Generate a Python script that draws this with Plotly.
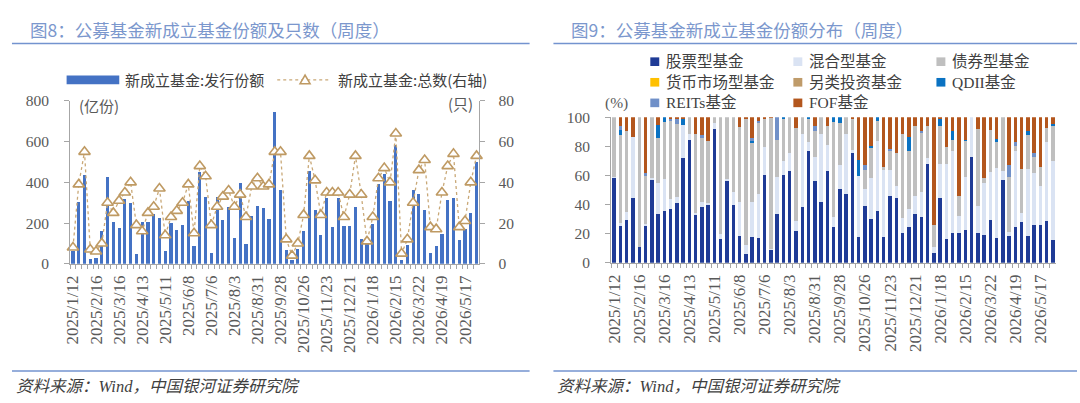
import plotly.graph_objects as go

W, H = 1080, 403

dates = [
    "2025/1/12", "2025/1/19", "2025/1/26", "2025/2/9", "2025/2/16", "2025/2/23", "2025/3/2", "2025/3/9",
    "2025/3/16", "2025/3/23", "2025/3/30", "2025/4/6", "2025/4/13", "2025/4/20", "2025/4/27", "2025/5/4",
    "2025/5/11", "2025/5/18", "2025/5/25", "2025/6/1", "2025/6/8", "2025/6/15", "2025/6/22", "2025/6/29",
    "2025/7/6", "2025/7/13", "2025/7/20", "2025/7/27", "2025/8/3", "2025/8/10", "2025/8/17", "2025/8/24",
    "2025/8/31", "2025/9/7", "2025/9/14", "2025/9/21", "2025/9/28", "2025/10/5", "2025/10/12", "2025/10/19",
    "2025/10/26", "2025/11/2", "2025/11/9", "2025/11/16", "2025/11/23", "2025/11/30", "2025/12/7", "2025/12/14",
    "2025/12/21", "2025/12/28", "2026/1/4", "2026/1/11", "2026/1/18", "2026/1/25", "2026/2/1", "2026/2/8",
    "2026/2/15", "2026/3/1", "2026/3/8", "2026/3/15", "2026/3/22", "2026/3/29", "2026/4/5", "2026/4/12",
    "2026/4/19", "2026/4/26", "2026/5/3", "2026/5/10", "2026/5/17", "2026/5/24", "2026/5/31",
]
label_every = 4

# 图8: 发行份额(亿份) 与 总数(只)
share = [65, 304, 438, 25, 30, 163, 427, 207, 177, 317, 301, 49, 204, 204, 245, 223, 64, 202,
         165, 190, 309, 89, 453, 326, 55, 328, 213, 278, 129, 397, 99, 234, 282, 276, 218, 747,
         364, 69, 20, 74, 160, 456, 262, 143, 325, 179, 325, 184, 184, 281, 121, 100, 195, 391,
         441, 309, 584, 17, 93, 361, 342, 262, 53, 88, 147, 312, 325, 116, 171, 248, 500]
count = [8, 39, 55, 7, 6, 10, 30, 25, 31, 35, 40, 19, 16, 25, 28, 37, 14, 23,
         26, 30, 39, 15, 48, 43, 19, 28, 33, 36, 28, 34, 23, 38, 42, 38, 39, 55,
         55, 12, 4, 10, 24, 53, 41, 24, 35, 35, 35, 23, 34, 53, 34, 11, 23, 42,
         47, 40, 64, 5, 12, 30, 46, 51, 18, 17, 35, 48, 54, 18, 21, 40, 53]

# 图9: 份额分布 (%)
stock = [58.5, 25, 29.6, 44.3, 11, 25.5, 57.2, 33.3, 35.3, 37, 41, 72, 84.2, 33.3, 38, 39.5, 92.1, 16.4,
         55.9, 39.5, 18.2, 6, 18, 17, 60.5, 9, 33.3, 60.3, 63, 21.7, 38.6, 76.8, 55.9, 42.1, 62.9, 24.8,
         50.9, 47.1, 75.4, 17.5, 38.8, 30, 35.5, 18, 46, 44.5, 20.8, 24.8, 33.6, 31.8, 68, 6.6, 44.3, 16.4,
         20.2, 20.8, 22.4, 72.8, 20.8, 19.1, 29.6, 17.1, 56.6, 18.4, 24.8, 28.1, 18.2, 26.3, 25.9, 28.9, 16]
mixed = [0.5, 2.5, 5.4, 42.3, 0, 1, 1.3, 21.5, 22.2, 6.9,
         4, 23, 4.6, 0.7, 3.5, 1.5, 3.7, 3.3, 1.6, 9.2,
         23.9, 6.5, 23.5, 30.5, 19, 0.5, 25.5, 9.9, 12.7, 7.2,
         49.8, 6.5, 17.1, 46.3, 18.2, 6.8, 16, 41.1, 2, 42.4,
         12.1, 28.1, 48.3, 45.6, 17.6, 8.6, 9.9, 12, 12.4, 16.9,
         3.9, 4.4, 23.7, 51.6, 56.6, 11.7, 36.8, 27.2, 18, 35.7,
         32.9, 48.3, 6.3, 3.1, 52, 5.9, 46.5, 35.5, 27.2, 54.4,
         53.7]
bond = [41, 60.5, 55.6, 0, 89, 33, 41.5, 30.7, 39, 53.7,
        50.5, 0, 11.2, 54.8, 44.5, 42.8, 4.2, 80.3, 42.5, 51.3,
        51.1, 86.2, 41, 49, 19.5, 90, 25.4, 28.5, 24.3, 63.9,
        11.6, 16, 17.4, 11.6, 13.2, 65.3, 29.1, 11.8, 21.6, 0,
        12.7, 20.8, 13.8, 2, 13.2, 22.6, 58.1, 40, 48.3, 40.8,
        22.4, 15.3, 26.3, 11.4, 7.6, 13.1, 24.6, 0, 53.3, 3.3,
        28.5, 17.9, 37.1, 37.5, 3.2, 30.7, 23, 10.6, 12.7, 9.2,
        24.2]
money = [0, 0, 0, 0, 0, 0, 0, 0, 0, 0, 0, 0, 0, 0, 0, 0, 0, 0, 0, 0, 0, 0, 0, 0,
         0, 0, 0, 0, 0, 0, 0, 0, 0, 0, 0, 0, 0, 0, 0, 0, 0, 0, 0, 0, 0, 0, 0, 0,
         0, 0, 0, 0, 0, 0, 0, 0, 0, 0, 0, 0, 0, 0, 0, 0, 0, 0, 0, 0, 0, 0, 0]
altern = [0, 0, 0, 0, 0, 0, 0, 0, 0, 0, 0, 0, 0, 0, 0, 0, 0, 0, 0, 0, 0, 0, 0, 0,
          0, 0, 0, 0, 0, 0, 0, 0, 0, 0, 0, 0, 0, 0, 0, 0, 0, 0, 0, 0, 0, 0, 0, 0,
          0, 0, 0, 0, 0, 0, 0, 0, 0, 0, 0, 0, 0, 0, 0, 0, 0, 0, 0, 0, 0, 0, 0]
qdii = [0, 3, 0, 0, 0, 0, 0, 9.5, 3.5, 0,
        0, 4, 0, 0, 0, 0, 0, 0, 0, 0,
        0, 0, 1.5, 0, 0, 0, 0, 1.3, 0, 0,
        0, 0.7, 0, 0, 0, 3.1, 4, 0, 0, 10.7,
        0, 1, 2.4, 0, 0, 0, 0, 9.9, 0, 0,
        0, 0, 4.8, 0, 5.9, 0, 0.9, 0, 0, 0,
        0, 1.5, 0, 0, 0, 0, 2.6, 0, 0, 0,
        1.3]
reits = [0, 3, 0, 0, 0, 2, 0, 0, 0, 1.4,
         3, 0, 0, 0, 2, 0, 0, 0, 0, 0,
         0, 0, 1.5, 1, 0, 0, 15.8, 0, 0, 0,
         0, 0, 3.5, 0, 0, 0, 0, 0, 0, 0,
         3.7, 0, 0, 0, 1.3, 0, 0, 0, 0, 0.9,
         0, 0, 0, 0, 0, 0, 0, 0, 0, 0,
         0, 0, 0, 8, 3.3, 0, 0, 3.3, 0, 0,
         0]
fof = [0, 6, 9.4, 13.4, 0, 38.5, 0, 5, 0, 1,
       1.5, 1, 0, 11.2, 12, 16.2, 0, 0, 0, 0,
       6.8, 1.3, 14.5, 2.5, 1, 0.5, 0, 0, 0, 7.2,
       0, 0, 6.1, 0, 5.7, 0, 0, 0, 1, 29.4,
       32.7, 20.1, 0, 34.4, 21.9, 24.3, 11.2, 13.3, 5.7, 9.6,
       5.7, 73.7, 0.9, 20.6, 9.7, 54.4, 15.3, 0, 7.9, 41.9,
       9, 15.2, 0, 33, 16.7, 35.3, 9.7, 24.3, 34.2, 7.5,
       4.8]

series9 = [
    ("股票型基金", stock, "#1F3B96"),
    ("混合型基金", mixed, "#DAE3F3"),
    ("债券型基金", bond, "#BFBFBF"),
    ("货币市场型基金", money, "#FFC000"),
    ("另类投资基金", altern, "#BF9B6A"),
    ("QDII基金", qdii, "#0A72C2"),
    ("REITs基金", reits, "#7090C8"),
    ("FOF基金", fof, "#B3561D"),
]

# ---------- helpers ----------
def px(x):
    return x / W

def py(y):
    return 1 - y / H

SERIF = "Liberation Serif, Noto Sans CJK SC"
CJK = "Noto Sans CJK SC, Liberation Serif"
TICK_C = "#595959"
AXIS_C = "#A6A6A6"
TXT_C = "#404040"
TITLE_C = "#7B97CD"
RULE_C = "#7393CF"
BAR_C = "#4472C4"
TRI_C = "#BF9A63"

ticktext = [d if i % label_every == 0 else "" for i, d in enumerate(dates)]

fig = go.Figure()

# ---------- 图8 ----------
fig.add_trace(go.Bar(x=dates, y=share, name="新成立基金:发行份额", marker_color=BAR_C,
                     marker_line_width=0, xaxis="x", yaxis="y", showlegend=False))
fig.add_trace(go.Scatter(x=dates, y=count, name="新成立基金:总数(右轴)", mode="lines+markers",
                         line=dict(color="#C9A877", width=1.3, dash="dot"),
                         marker=dict(symbol="triangle-up", size=10, color="white",
                                     line=dict(color=TRI_C, width=1.6)),
                         xaxis="x", yaxis="y2", showlegend=False, cliponaxis=False))

# ---------- 图9 ----------
for name, vals, col in series9:
    fig.add_trace(go.Bar(x=dates, y=vals, name=name, marker_color=col, marker_line_width=0,
                         xaxis="x3", yaxis="y3", showlegend=False))

xcommon = dict(type="category", tickmode="array", tickvals=dates, ticktext=ticktext,
               tickangle=-90, tickson="boundaries", ticks="outside", ticklen=4,
               tickcolor=AXIS_C, showline=True, linecolor=AXIS_C, linewidth=1,
               showgrid=False, zeroline=False, range=[-0.5, len(dates) - 0.5],
               ticklabelstandoff=4,
               tickfont=dict(family=SERIF, size=17, color=TICK_C), fixedrange=True)
ycommon = dict(ticks="outside", ticklen=5, tickcolor=AXIS_C, showline=True, linecolor=AXIS_C,
               linewidth=1, showgrid=False, zeroline=False,
               tickfont=dict(family=SERIF, size=15.5, color=TICK_C))

fig.update_layout(
    width=W, height=H, margin=dict(l=0, r=0, t=0, b=0),
    paper_bgcolor="white", plot_bgcolor="rgba(0,0,0,0)",
    barmode="stack", bargap=0.45,
    xaxis=dict(domain=[px(63.5), px(475.5)], anchor="y", **xcommon),
    yaxis=dict(domain=[py(266), py(96)], range=[0, 800], dtick=200, anchor="x",
               ticklabelstandoff=12, **ycommon),
    yaxis2=dict(range=[0, 80], dtick=20, overlaying="y", side="right", anchor="x",
                ticklabelstandoff=10, **ycommon),
    xaxis3=dict(domain=[px(608), px(1056)], anchor="y3", **xcommon),
    yaxis3=dict(domain=[py(265), py(113)], range=[0, 100], dtick=20, anchor="x3",
                ticklabelstandoff=12, **ycommon),
)

shapes = []
ann = []

# titles, rules, sources
for x0, x1, title in [(5, 526, "图8：公募基金新成立基金份额及只数（周度）"),
                      (550, 1077, "图9：公募基金新成立基金份额分布（周度）")]:
    ann.append(dict(x=px(x0 + 16), y=py(21), xref="paper", yref="paper", xanchor="left",
                    yanchor="middle", showarrow=False, text=title,
                    font=dict(family=CJK, size=17.5, color=TITLE_C)))
    shapes.append(dict(type="line", xref="paper", yref="paper", x0=px(x0), x1=px(x1),
                       y0=py(36), y1=py(36), line=dict(color=RULE_C, width=1.6)))
    shapes.append(dict(type="line", xref="paper", yref="paper", x0=px(x0), x1=px(x1),
                       y0=py(378), y1=py(378), line=dict(color=RULE_C, width=1.6)))
    ann.append(dict(x=px(x0 + 2), y=py(394), xref="paper", yref="paper", xanchor="left",
                    yanchor="middle", showarrow=False, text="<i>资料来源：Wind，中国银河证券研究院</i>",
                    font=dict(family=SERIF, size=16.5, color=TXT_C)))

# unit labels
ann.append(dict(x=px(70), y=py(101), xref="paper", yref="paper", xanchor="left", yanchor="middle",
                showarrow=False, text="(亿份)", font=dict(family=CJK, size=15, color=TICK_C)))
ann.append(dict(x=px(471), y=py(99), xref="paper", yref="paper", xanchor="right", yanchor="middle",
                showarrow=False, text="(只)", font=dict(family=CJK, size=15, color=TICK_C)))
ann.append(dict(x=px(613), y=py(98), xref="paper", yref="paper", xanchor="center", yanchor="middle",
                showarrow=False, text="(%)", font=dict(family=SERIF, size=15.5, color=TICK_C)))

# legend 图8
ly = 74
shapes.append(dict(type="rect", xref="paper", yref="paper", x0=px(60), x1=px(113),
                   y0=py(ly + 4.5), y1=py(ly - 4.5), fillcolor=BAR_C, line=dict(width=0)))
ann.append(dict(x=px(117), y=py(ly), xref="paper", yref="paper", xanchor="left", yanchor="middle",
                showarrow=False, text="新成立基金:发行份额", font=dict(family=CJK, size=15, color=TXT_C)))
shapes.append(dict(type="line", xref="paper", yref="paper", x0=px(272), x1=px(324),
                   y0=py(ly), y1=py(ly), line=dict(color="#C9A877", width=1.3, dash="dot")))
tx, tyc, s = 300, ly, 5
shapes.append(dict(type="path", xref="paper", yref="paper",
                   path=f"M {px(tx - s)} {py(tyc + 4)} L {px(tx + s)} {py(tyc + 4)} L {px(tx)} {py(tyc - 5)} Z",
                   fillcolor="white", line=dict(color=TRI_C, width=1.6)))
ann.append(dict(x=px(331), y=py(ly), xref="paper", yref="paper", xanchor="left", yanchor="middle",
                showarrow=False, text="新成立基金:总数(右轴)", font=dict(family=CJK, size=15, color=TXT_C)))

# legend 图9
cols = [652, 796, 940]
rows = [55, 76.5, 98]
pos = [(0, 0), (1, 0), (2, 0), (0, 1), (1, 1), (2, 1), (0, 2), (1, 2)]
for (name, vals, col), (ci, ri) in zip(series9, pos):
    cx, cy = cols[ci], rows[ri]
    shapes.append(dict(type="rect", xref="paper", yref="paper", x0=px(cx - 4.5), x1=px(cx + 4.5),
                       y0=py(cy + 4.5), y1=py(cy - 4.5), fillcolor=col, line=dict(width=0)))
    ann.append(dict(x=px(cx + 9), y=py(cy), xref="paper", yref="paper", xanchor="left",
                    yanchor="middle", showarrow=False, text=name,
                    font=dict(family=SERIF, size=15.5, color=TXT_C)))

fig.update_layout(shapes=shapes, annotations=ann)
fig.write_html("out.html")
